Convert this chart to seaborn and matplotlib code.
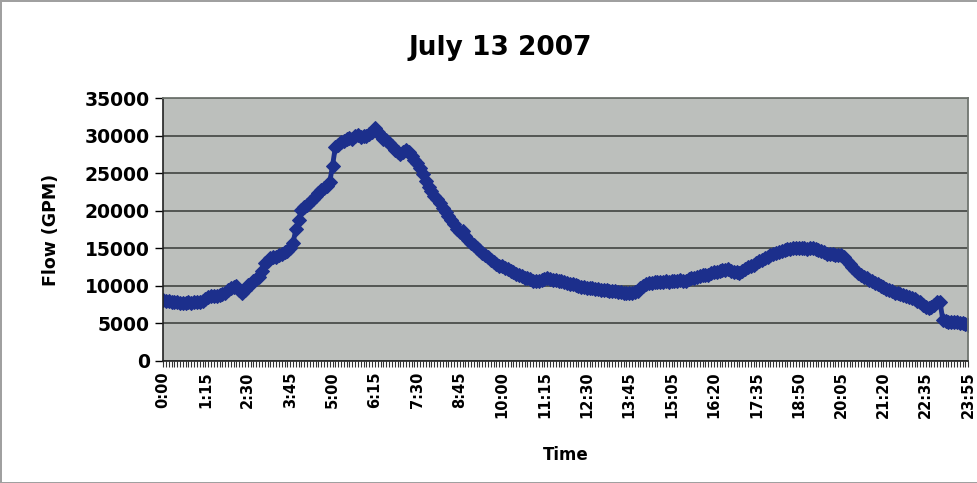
import seaborn as sns
import matplotlib.pyplot as plt
import numpy as np
import pandas as pd

sns.set_style("white", {"axes.facecolor": "#bcbfbc"})
plt.rcParams['font.family'] = ['DejaVu Sans']
plt.rcParams['text.color'] = 'black'
plt.rcParams['xtick.color'] = 'black'
plt.rcParams['ytick.color'] = 'black'
plt.rcParams['axes.labelcolor'] = 'black'

# 5-minute readings, 0:00 .. 23:55 (two slots missing in the log)
times = pd.date_range("2007-07-13 00:00", "2007-07-13 23:55", freq="5min")
times = times.drop([pd.Timestamp("2007-07-13 14:30"), pd.Timestamp("2007-07-13 23:10")])
time_labels = [f"{t.hour}:{t.minute:02d}" for t in times]

flow = [
    8100, 8000, 7950, 7900, 7850, 7800, 7750, 7700, 7750, 7800, 7750, 7850, 7900, 7900, 8050,
    8300, 8550, 8600, 8700, 8650, 8800, 8900, 9100, 9400, 9700, 9900, 10000, 9500, 9000, 9400,
    10100, 10300, 10600, 10900, 11200, 12000, 13000, 13300, 13700, 13800, 13900, 14100, 14300, 14500, 14600,
    15100, 15700, 17500, 18800, 20100, 20500, 20800, 21200, 21500, 21900, 22300, 22700, 23000, 23300, 23800,
    26000, 28500, 28800, 29100, 29300, 29500, 29700, 29600, 29900, 30100, 29800, 30000, 29900, 30200, 30500,
    31000, 30500, 30000, 29600, 29400, 29000, 28600, 28100, 27800, 27500, 27800, 28100, 27800, 27300, 26800,
    26300, 25700, 24900, 24000, 23200, 22600, 22000, 21500, 21000, 20400, 19800, 19300, 18800, 18200, 17600,
    17200, 17300, 16600, 16100, 15700, 15400, 15100, 14800, 14400, 14100, 13800, 13500, 13200, 12900, 12700,
    12600, 12400, 12200, 12000, 11800, 11600, 11500, 11300, 11100, 11000, 10900, 10700, 10600, 10600, 10800,
    10900, 11000, 10900, 10800, 10800, 10700, 10600, 10500, 10400, 10300, 10200, 10100, 10000, 9900, 9850,
    9750, 9700, 9650, 9600, 9550, 9500, 9450, 9400, 9350, 9300, 9250, 9200, 9150, 9100, 9050,
    9000, 9100, 9200, 9300, 9700, 10000, 10300, 10350, 10400, 10450, 10500, 10500, 10550, 10600, 10550,
    10600, 10650, 10700, 10750, 10700, 10700, 10850, 11000, 11100, 11200, 11300, 11400, 11450, 11500, 11700,
    11800, 11900, 12000, 12100, 12100, 12200, 12000, 11900, 11800, 11700, 12000, 12300, 12500, 12700, 12800,
    13100, 13300, 13500, 13700, 13900, 14100, 14300, 14400, 14550, 14700, 14800, 14850, 14900, 15000, 15000,
    15000, 15100, 15000, 14900, 15000, 15000, 14900, 14800, 14700, 14500, 14300, 14200, 14200, 14100, 14100,
    14100, 13800, 13300, 12900, 12500, 12100, 11700, 11500, 11200, 11000, 10800, 10600, 10400, 10200, 10000,
    9800, 9600, 9400, 9250, 9100, 9000, 8900, 8800, 8650, 8500, 8400, 8250, 8000, 7800, 7500,
    7200, 7000, 7200, 7500, 7800, 7900, 5500, 5300, 5250, 5250, 5200, 5150, 5100, 5000, 4900,
    4800,
]

df = pd.DataFrame({"idx": np.arange(len(flow)), "flow": flow})

fig = plt.figure(figsize=(9.78, 4.83), dpi=100)
fig.patch.set_edgecolor("#a0a0a0")
fig.patch.set_linewidth(2)
ax = fig.add_axes([0.1667, 0.2526, 0.8233, 0.5445])

sns.lineplot(data=df, x="idx", y="flow", ax=ax, color="#1c2f8c", linewidth=3.5,
             marker="D", markersize=7, markeredgecolor="#1c2f8c")

ax.set_xlim(0, len(flow) - 1)
ax.set_ylim(0, 35000)
ax.set_yticks(range(0, 35001, 5000))
ax.yaxis.grid(True, color="#4a4d4a", linewidth=1.3)
ax.set_axisbelow(True)

major = list(range(0, len(flow), 15))
ax.set_xticks(major)
ax.set_xticklabels([time_labels[i] for i in major], rotation=90, fontsize=10.5, fontweight="bold")
ax.set_xticks(range(len(flow)), minor=True)
ax.tick_params(axis="x", which="both", direction="out", length=4, width=0.8, color="#333333", bottom=True)
ax.tick_params(axis="y", which="major", direction="out", length=6, width=1, left=True, labelsize=13.5)
for lab in ax.get_yticklabels():
    lab.set_fontweight("bold")

for side in ["top", "right"]:
    ax.spines[side].set_color("#707570")
    ax.spines[side].set_linewidth(1.3)
for side in ["left", "bottom"]:
    ax.spines[side].set_color("#222222")
    ax.spines[side].set_linewidth(1.2)

ax.set_xlabel("Time", fontsize=12, fontweight="bold", labelpad=20)
ax.set_ylabel("Flow (GPM)", fontsize=12.5, fontweight="bold", labelpad=18)
fig.text(0.512, 0.9, "July 13 2007", fontsize=19, fontweight="bold", ha="center", va="center")

fig.savefig("out.png", dpi=100)
